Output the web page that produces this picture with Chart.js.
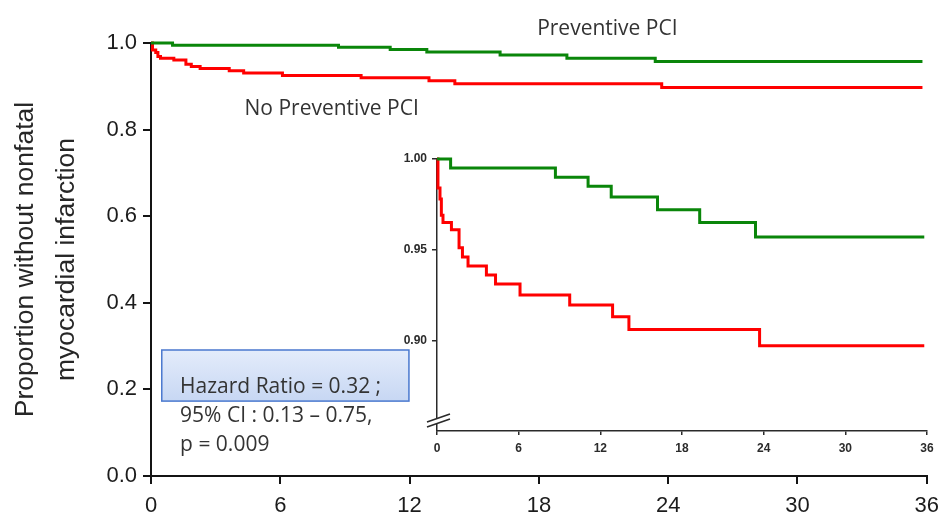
<!DOCTYPE html>
<html>
<head>
<meta charset="utf-8">
<script src="https://cdn.jsdelivr.net/npm/chart.js@4.4.0/dist/chart.umd.min.js"></script>
<style>
  html, body { margin: 0; padding: 0; background: #fff; }
  #wrap { position: relative; width: 948px; height: 520px; }
  #wrap canvas { position: absolute; left: 0; top: 0; }
</style>
</head>
<body>
<div id="wrap">
  <canvas id="mainChart" width="948" height="520"></canvas>
  <canvas id="insetChart" width="948" height="520"></canvas>
</div>
<script>
// Kaplan-Meier steps: month at which each step starts, and the proportion from then on
const pciMonths = [0, 1.0, 8.7, 11.1, 12.8, 16.2, 19.3, 23.4, 35.8];
const pciSurvival = [1.0, 0.995, 0.990, 0.985, 0.979, 0.972, 0.965, 0.957, 0.957];
const noPciMonths = [0, 0.07, 0.22, 0.32, 0.44, 1.06, 1.62, 1.87, 2.28, 3.63, 4.3, 6.1, 9.75, 12.9, 14.1, 23.7, 35.8];
const noPciSurvival = [1.0, 0.984, 0.978, 0.969, 0.965, 0.961, 0.951, 0.946, 0.941, 0.936, 0.931, 0.925, 0.9195, 0.913, 0.906, 0.897, 0.897];

const monthTicks = [0, 6, 12, 18, 24, 30, 36];
const mainYTicks = [0, 0.2, 0.4, 0.6, 0.8, 1.0];
const insetYTicks = [0.90, 0.95, 1.00];

const seriesNames = ['Preventive PCI', 'No Preventive PCI'];
const yTitleLines = ['Proportion without nonfatal', 'myocardial infarction'];
const statsLines = ['Hazard Ratio = 0.32 ;', '95% CI : 0.13 \u2013 0.75,', 'p = 0.009'];

const GREEN = '#0a860a';
const RED = '#ff0000';
const AXIS = '#141414';
const SANS = '"Liberation Sans", Arial, sans-serif';
const NOTE_FONT = '"Open Sans", sans-serif';

function toPoints(months, values) {
  return months.map((m, i) => ({ x: m, y: values[i] }));
}

function makeDatasets(width) {
  return [
    { label: seriesNames[0], data: toPoints(pciMonths, pciSurvival), borderColor: GREEN },
    { label: seriesNames[1], data: toPoints(noPciMonths, noPciSurvival), borderColor: RED }
  ].map(d => Object.assign(d, {
    stepped: 'before', borderWidth: width, pointRadius: 0, fill: false, clip: false,
    borderJoinStyle: 'miter', borderCapStyle: 'butt'
  }));
}

function fixedTicks(values) {
  return scale => { scale.ticks = values.map(v => ({ value: v })); };
}

// Labels, statistics box for the full-range chart (anchored in data units)
const mainNotes = {
  id: 'mainNotes',
  afterDraw(chart) {
    const { ctx, scales: { x, y } } = chart;
    ctx.save();
    // statistics box
    const bx0 = x.getPixelForValue(0.5), bx1 = x.getPixelForValue(11.97);
    const by0 = y.getPixelForValue(0.291), by1 = y.getPixelForValue(0.173);
    const g = ctx.createLinearGradient(0, by0, 0, by1);
    g.addColorStop(0, '#e4ecfb');
    g.addColorStop(1, '#c7d7f3');
    ctx.fillStyle = g;
    ctx.fillRect(bx0, by0, bx1 - bx0, by1 - by0);
    ctx.strokeStyle = '#4a78cf';
    ctx.lineWidth = 1.5;
    ctx.strokeRect(bx0, by0, bx1 - bx0, by1 - by0);

    ctx.fillStyle = '#333';
    ctx.textBaseline = 'alphabetic';
    ctx.textAlign = 'left';
    ctx.font = '21px ' + NOTE_FONT;
    const statY = [0.191, 0.1255, 0.0585];
    statsLines.forEach((t, i) => ctx.fillText(t, x.getPixelForValue(1.35), y.getPixelForValue(statY[i])));

    ctx.fillText(seriesNames[0], x.getPixelForValue(17.92), y.getPixelForValue(1.0194));
    ctx.fillText(seriesNames[1], x.getPixelForValue(4.34), y.getPixelForValue(0.8348));
    ctx.restore();
  }
};

// Broken-axis marks near the bottom of the zoomed y axis
const axisBreak = {
  id: 'axisBreak',
  afterDraw(chart) {
    const { ctx, scales: { x, y } } = chart;
    const ax = x.left;
    const cy = y.getPixelForValue(0.8555);
    ctx.save();
    ctx.beginPath();
    ctx.moveTo(ax - 10, cy + 1);
    ctx.lineTo(ax + 13, cy - 7);
    ctx.lineTo(ax + 13, cy - 2);
    ctx.lineTo(ax - 10, cy + 6);
    ctx.closePath();
    ctx.fillStyle = '#fff';
    ctx.fill();
    ctx.strokeStyle = '#2a2a2a';
    ctx.lineWidth = 1.6;
    ctx.beginPath();
    ctx.moveTo(ax - 10, cy + 1); ctx.lineTo(ax + 13, cy - 7);
    ctx.moveTo(ax - 10, cy + 6); ctx.lineTo(ax + 13, cy - 2);
    ctx.stroke();
    ctx.restore();
  }
};

const common = {
  responsive: false,
  animation: false,
  devicePixelRatio: 1,
  events: [],
  plugins: { legend: { display: false }, tooltip: { enabled: false } }
};

new Chart(document.getElementById('mainChart'), {
  type: 'line',
  data: { datasets: makeDatasets(3) },
  options: Object.assign({}, common, {
    layout: { padding: { left: 0, top: 43, right: 15, bottom: 0 } },
    scales: {
      x: {
        type: 'linear', min: 0, max: 36,
        afterBuildTicks: fixedTicks(monthTicks),
        afterFit: s => { s.height = 44; },
        ticks: { font: { family: SANS, size: 22 }, color: '#1c1c1c', padding: 9, maxRotation: 0, autoSkip: false },
        grid: { drawOnChartArea: false, drawTicks: true, tickLength: 8, color: AXIS, lineWidth: 2 },
        border: { display: true, color: AXIS, width: 2 }
      },
      y: {
        type: 'linear', min: 0, max: 1,
        afterBuildTicks: fixedTicks(mainYTicks),
        afterFit: s => { s.width = 151; },
        ticks: { font: { family: SANS, size: 22 }, color: '#1c1c1c', padding: 6, callback: v => v.toFixed(1) },
        grid: { drawOnChartArea: false, drawTicks: true, tickLength: 8, color: AXIS, lineWidth: 2 },
        border: { display: true, color: AXIS, width: 2 },
        title: {
          display: true, text: yTitleLines, color: '#262626',
          font: { family: SANS, size: 26.5, lineHeight: 1.55 },
          padding: { top: 5, bottom: 0 }
        }
      }
    }
  }),
  plugins: [mainNotes]
});

new Chart(document.getElementById('insetChart'), {
  type: 'line',
  data: { datasets: makeDatasets(3) },
  options: Object.assign({}, common, {
    layout: { padding: { left: 387, top: 159, right: 21, bottom: 0 } },
    scales: {
      x: {
        type: 'linear', min: 0, max: 36,
        afterBuildTicks: fixedTicks(monthTicks),
        afterFit: s => { s.height = 89; },
        ticks: { font: { family: SANS, size: 12, weight: 'bold' }, color: '#2b2b2b', padding: 6, maxRotation: 0, autoSkip: false },
        grid: { drawOnChartArea: false, drawTicks: true, tickLength: 4, color: '#2a2a2a', lineWidth: 1.5 },
        border: { display: true, color: '#2a2a2a', width: 1.5 }
      },
      y: {
        type: 'linear', min: 0.85, max: 1.0,
        afterBuildTicks: fixedTicks(insetYTicks),
        afterFit: s => { s.width = 50; },
        ticks: { font: { family: SANS, size: 12, weight: 'bold' }, color: '#2b2b2b', padding: 5, callback: v => v.toFixed(2) },
        grid: { drawOnChartArea: false, drawTicks: true, tickLength: 5, color: '#2a2a2a', lineWidth: 1.5 },
        border: { display: true, color: '#2a2a2a', width: 1.5 }
      }
    }
  }),
  plugins: [axisBreak]
});
</script>
</body>
</html>
